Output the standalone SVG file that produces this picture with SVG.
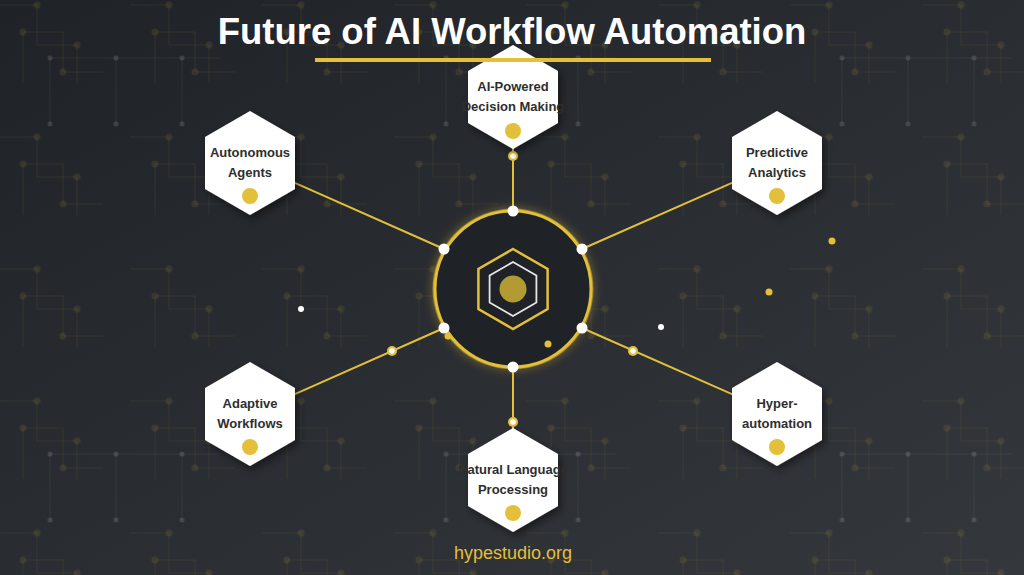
<svg xmlns="http://www.w3.org/2000/svg" width="1024" height="575" viewBox="0 0 1024 575">
  <defs>
    <linearGradient id="bg" x1="0" y1="0" x2="1" y2="1">
      <stop offset="0" stop-color="#1f2227"/>
      <stop offset="1" stop-color="#34373c"/>
    </linearGradient>
    <pattern id="circ" x="0" y="0" width="132" height="132" patternUnits="userSpaceOnUse">
      <g stroke="#e3bf3a" stroke-opacity="0.08" stroke-width="1" fill="none">
        <path d="M0 5H37V45H77V83M130 5H132M23 83V32H63V72H103"/>
      </g>
      <g fill="#e3bf3a" fill-opacity="0.1">
        <circle cx="37" cy="5" r="3.5"/>
        <circle cx="23" cy="32" r="3.5"/>
        <circle cx="77" cy="45" r="3.5"/>
        <circle cx="63" cy="72" r="3.5"/>
      </g>
    </pattern>
    <pattern id="grid" x="0" y="0" width="396" height="396" patternUnits="userSpaceOnUse">
      <path d="M50 58H220M50 58V124M116 58V124M182 58V124" stroke="#ffffff" stroke-opacity="0.05" stroke-width="1" fill="none"/>
      <g fill="#ffffff" fill-opacity="0.12">
        <circle cx="50" cy="58" r="2.5"/>
        <circle cx="116" cy="58" r="2.5"/>
        <circle cx="182" cy="58" r="2.5"/>
        <circle cx="50" cy="124" r="2.5"/>
        <circle cx="116" cy="124" r="2.5"/>
        <circle cx="182" cy="124" r="2.5"/>
      </g>
    </pattern>
    <filter id="shadow" x="-30%" y="-30%" width="160%" height="160%">
      <feDropShadow dx="3" dy="4" stdDeviation="4" flood-color="#000" flood-opacity="0.45"/>
    </filter>
    <filter id="glow" x="-30%" y="-30%" width="160%" height="160%">
      <feGaussianBlur in="SourceGraphic" stdDeviation="5" result="b"/>
      <feMerge><feMergeNode in="b"/><feMergeNode in="SourceGraphic"/></feMerge>
    </filter>
    <path id="hex" d="M0 -52L45 -26L45 26L0 52L-45 26L-45 -26Z"/>
    <g id="ring">
      <circle r="5" fill="#e3bf3a"/>
      <circle r="2.8" fill="#ffffff"/>
    </g>
  </defs>
  <style>
    .conn { stroke: #e3bf3a; stroke-width: 2; fill: none; }
    .hexshape { fill: #ffffff; filter: url(#shadow); }
    .lbl { font-family: "Liberation Sans", Arial, Helvetica, sans-serif; font-size: 13px; font-weight: bold; fill: #2e2e2e; text-anchor: middle; }
    .hdot { fill: #e3bf3a; }
    .wdot { fill: #ffffff; }
    .title { font-family: "Liberation Sans", Arial, Helvetica, sans-serif; font-size: 36.5px; font-weight: bold; fill: #ffffff; text-anchor: middle; }
    .foot { font-family: "Liberation Sans", Arial, Helvetica, sans-serif; font-size: 18px; fill: #e3bf3a; text-anchor: middle; }
  </style>

  <rect width="1024" height="575" fill="url(#bg)"/>
  <rect width="1024" height="575" fill="url(#circ)"/>
  <rect width="1024" height="575" fill="url(#grid)"/>

  <g id="connectors">
    <line class="conn" x1="513" y1="97" x2="513" y2="211"/>
    <line class="conn" x1="513" y1="367" x2="513" y2="480"/>
    <line class="conn" x1="250" y1="163" x2="444" y2="249"/>
    <line class="conn" x1="777" y1="163" x2="582" y2="249"/>
    <line class="conn" x1="250" y1="414" x2="444" y2="328"/>
    <line class="conn" x1="777" y1="414" x2="582" y2="328"/>
    <use href="#ring" x="513" y="156"/>
    <use href="#ring" x="513" y="422"/>
    <use href="#ring" x="392" y="351"/>
    <use href="#ring" x="633" y="351"/>
  </g>

  <g id="center">
    <circle cx="513" cy="289" r="78" fill="none" stroke="#e3bf3a" stroke-width="5" stroke-opacity="0.5" filter="url(#glow)"/>
    <circle cx="513" cy="289" r="78" fill="#1f2226" stroke="#e3bf3a" stroke-width="3"/>
    <path d="M513 249L547.6 269L547.6 309L513 329L478.4 309L478.4 269Z" fill="none" stroke="#e3bf3a" stroke-width="2.5"/>
    <path d="M513 262L536.4 275.5L536.4 302.5L513 316L489.6 302.5L489.6 275.5Z" fill="none" stroke="#e6e6e6" stroke-width="1.8"/>
    <circle cx="513" cy="289" r="13.5" fill="#b39b33"/>
    <circle class="wdot" cx="513" cy="211" r="5.5"/>
    <circle class="wdot" cx="513" cy="367" r="5.5"/>
    <circle class="wdot" cx="444" cy="249" r="5.5"/>
    <circle class="wdot" cx="582" cy="249" r="5.5"/>
    <circle class="wdot" cx="444" cy="328" r="5.5"/>
    <circle class="wdot" cx="582" cy="328" r="5.5"/>
  </g>

  <g id="decor">
    <circle cx="448" cy="336" r="3.5" fill="#e3bf3a"/>
    <circle cx="548" cy="344" r="3.5" fill="#e3bf3a"/>
    <circle cx="832" cy="241" r="3.5" fill="#e3bf3a"/>
    <circle cx="769" cy="292" r="3.5" fill="#e3bf3a"/>
    <circle cx="301" cy="309" r="3" fill="#ffffff"/>
    <circle cx="661" cy="327" r="3" fill="#ffffff"/>
  </g>

  <g id="node-ai-powered" transform="translate(513,97)">
    <use href="#hex" class="hexshape"/>
    <text class="lbl" x="0" y="-6">AI-Powered</text>
    <text class="lbl" x="0" y="14">Decision Making</text>
    <circle class="hdot" cx="0" cy="34" r="8"/>
  </g>
  <g id="node-autonomous" transform="translate(250,163)">
    <use href="#hex" class="hexshape"/>
    <text class="lbl" x="0" y="-6">Autonomous</text>
    <text class="lbl" x="0" y="14">Agents</text>
    <circle class="hdot" cx="0" cy="33" r="8"/>
  </g>
  <g id="node-predictive" transform="translate(777,163)">
    <use href="#hex" class="hexshape"/>
    <text class="lbl" x="0" y="-6">Predictive</text>
    <text class="lbl" x="0" y="14">Analytics</text>
    <circle class="hdot" cx="0" cy="33" r="8"/>
  </g>
  <g id="node-adaptive" transform="translate(250,414)">
    <use href="#hex" class="hexshape"/>
    <text class="lbl" x="0" y="-6">Adaptive</text>
    <text class="lbl" x="0" y="14">Workflows</text>
    <circle class="hdot" cx="0" cy="33" r="8"/>
  </g>
  <g id="node-hyper" transform="translate(777,414)">
    <use href="#hex" class="hexshape"/>
    <text class="lbl" x="0" y="-6">Hyper-</text>
    <text class="lbl" x="0" y="14">automation</text>
    <circle class="hdot" cx="0" cy="33" r="8"/>
  </g>
  <g id="node-nlp" transform="translate(513,480)">
    <use href="#hex" class="hexshape"/>
    <text class="lbl" x="0" y="-6">Natural Language</text>
    <text class="lbl" x="0" y="14">Processing</text>
    <circle class="hdot" cx="0" cy="33" r="8"/>
  </g>

  <g id="title">
    <text class="title" x="512" y="44">Future of AI Workflow Automation</text>
    <rect x="315" y="58" width="396" height="4" fill="#e3bf3a"/>
  </g>

  <text id="footer" class="foot" x="513" y="559">hypestudio.org</text>
</svg>
